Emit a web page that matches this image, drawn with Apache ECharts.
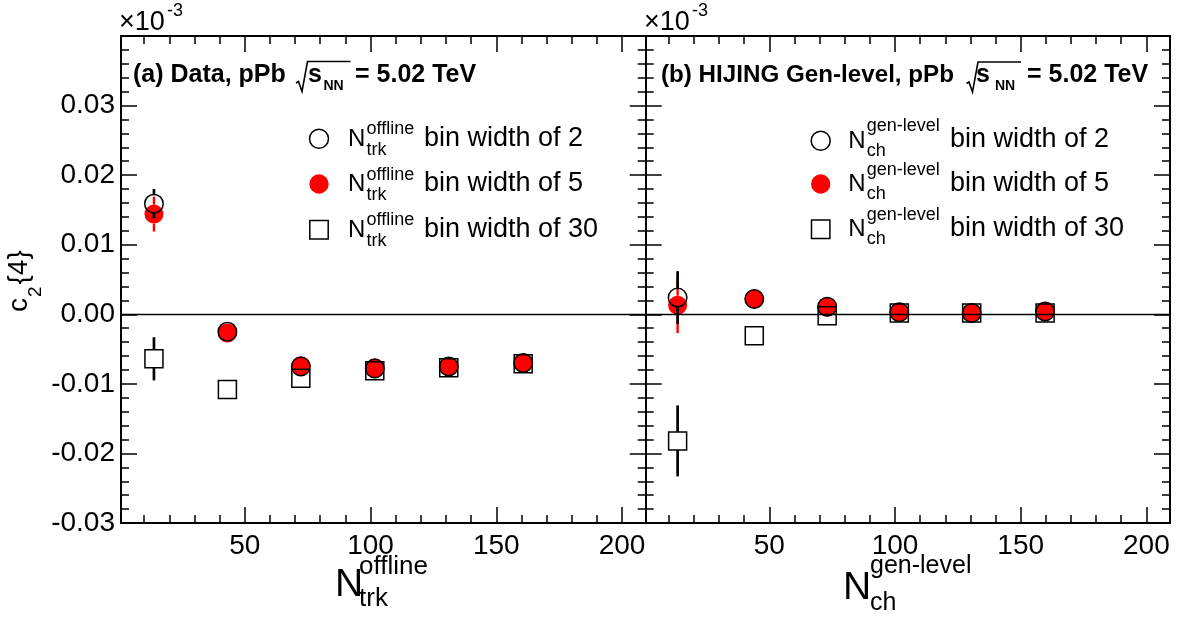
<!DOCTYPE html>
<html><head><meta charset="utf-8">
<script src="https://cdn.jsdelivr.net/npm/echarts@6/dist/echarts.min.js"></script>
<style>html,body{margin:0;padding:0;background:#fff}#c{width:1182px;height:617px}</style>
</head><body><div id="c"></div>
<script>
// ---------------- data ----------------
// panel (a): Data, pPb
const xA = [13.9, 43.1, 72.3, 101.7, 131.1, 160.7];
const aBw2 = [0.0159, -0.0025, -0.0075, -0.0078, -0.0075, -0.0070];
const aBw2Err = [0.0021, 0.0004, 0.0003, 0.0003, 0.0003, 0.0003];
const aBw5 = [0.0144, -0.0027, -0.0074, -0.0077, -0.0075, -0.0070];
const aBw5Err = [0.0025, 0.0005, 0.0004, 0.0003, 0.0003, 0.0003];
const aBw30 = [-0.0064, -0.0108, -0.0092, -0.0081, -0.0077, -0.0071];
const aBw30Err = [0.0031, 0.0005, 0.0004, 0.0003, 0.0003, 0.0003];
// panel (b): HIJING gen-level
const xB = [13.5, 44.0, 73.0, 101.7, 130.5, 159.7];
const bBw2 = [0.0024, 0.0022, 0.0011, 0.0003, 0.0002, 0.0004];
const bBw2Err = [0.0038, 0.0006, 0.0004, 0.0003, 0.0003, 0.0003];
const bBw5 = [0.0013, 0.0022, 0.0010, 0.0003, 0.0002, 0.0004];
const bBw5Err = [0.0040, 0.0006, 0.0004, 0.0003, 0.0003, 0.0003];
const bBw30 = [-0.0182, -0.0031, -0.0002, 0.0002, 0.0002, 0.0002];
const bBw30Err = [0.0051, 0.0006, 0.0004, 0.0003, 0.0003, 0.0003];
// ticks
const xMajor = [50, 100, 150, 200];
const xMinor = [10, 20, 30, 40, 60, 70, 80, 90, 110, 120, 130, 140, 160, 170, 180, 190, 200];
const yMin = -0.03, yMax = 0.04, yStep = 0.01;
const legendA = ['offline', 'trk'];
const legendB = ['gen-level', 'ch'];
const legendTexts = ['bin width of 2', 'bin width of 5', 'bin width of 30'];

// ---------------- layout ----------------
const FONT = 'Liberation Sans';
const X0 = 0.8, X1 = 209.4;
const grids = [
  {left: 121, top: 36, width: 524.7, height: 487},
  {left: 645.7, top: 36, width: 524.3, height: 487}
];

function xAxesFor(g) {
  const base = {type: 'value', gridIndex: g, min: X0, max: X1, splitLine: {show: false}};
  return [
    Object.assign({}, base, {position: 'bottom',
      axisLine: {show: true, onZero: false, lineStyle: {color: '#000', width: 2}},
      axisTick: {show: true, inside: true, length: 16, customValues: xMajor, lineStyle: {color: '#000', width: 1.5}},
      axisLabel: {show: true, customValues: xMajor, color: '#000', fontFamily: FONT, fontSize: 28, margin: 9}}),
    Object.assign({}, base, {position: 'bottom',
      axisLine: {show: false, onZero: false},
      axisTick: {show: true, inside: true, length: 8, customValues: xMinor, lineStyle: {color: '#000', width: 1.5}},
      axisLabel: {show: false}}),
    Object.assign({}, base, {position: 'top',
      axisLine: {show: true, onZero: false, lineStyle: {color: '#000', width: 2}},
      axisTick: {show: true, inside: true, length: 16, customValues: xMajor, lineStyle: {color: '#000', width: 1.5}},
      axisLabel: {show: false}}),
    Object.assign({}, base, {position: 'top',
      axisLine: {show: false, onZero: false},
      axisTick: {show: true, inside: true, length: 8, customValues: xMinor, lineStyle: {color: '#000', width: 1.5}},
      axisLabel: {show: false}})
  ];
}
function yAxesFor(g, withLabels) {
  const base = {type: 'value', gridIndex: g, min: yMin, max: yMax, interval: yStep,
    splitLine: {show: false}, minorSplitLine: {show: false},
    axisLine: {show: true, onZero: false, lineStyle: {color: '#000', width: 2}},
    axisTick: {show: true, inside: true, length: 16, lineStyle: {color: '#000', width: 1.5}},
    minorTick: {show: true, splitNumber: 5, length: 8, lineStyle: {color: '#000', width: 1.5}}};
  return [
    Object.assign({}, base, {position: 'left',
      axisLabel: {show: withLabels, color: '#000', fontFamily: FONT, fontSize: 28, margin: 6, showMinLabel: true,
        formatter: v => v > yMax - yStep / 2 ? '' : (Math.abs(v) < 1e-9 ? '0.00' : v.toFixed(2))}}),
    Object.assign({}, base, {position: 'right', axisLabel: {show: false}})
  ];
}

function errSeries(xs, ys, es, color, gap, xi, yi, lw, z) {
  return {
    type: 'custom', xAxisIndex: xi, yAxisIndex: yi, z: z, silent: true,
    data: xs.map((x, i) => [x, ys[i], es[i]]),
    encode: {x: 0, y: 1},
    renderItem: (params, api) => {
      const x = api.value(0), y = api.value(1), e = api.value(2);
      const c = api.coord([x, y]);
      const t = api.coord([x, y + e]);
      const b = api.coord([x, y - e]);
      const ch = [];
      const st = {stroke: color, lineWidth: lw};
      if (c[1] - t[1] > gap) ch.push({type: 'line', shape: {x1: c[0], y1: t[1], x2: c[0], y2: c[1] - gap}, style: st});
      if (b[1] - c[1] > gap) ch.push({type: 'line', shape: {x1: c[0], y1: c[1] + gap, x2: c[0], y2: b[1]}, style: st});
      return {type: 'group', children: ch};
    }
  };
}
function markSeries(xs, ys, kind, xi, yi, z, zeroLine) {
  const s = {
    type: 'scatter', xAxisIndex: xi, yAxisIndex: yi, z: z, silent: true,
    data: xs.map((x, i) => [x, ys[i]]),
    symbol: kind === 'square' ? 'rect' : 'circle',
    symbolSize: kind === 'square' ? 18 : (kind === 'filled' ? 19 : 18.5),
    itemStyle: kind === 'filled' ? {color: '#ff0000', borderWidth: 0, opacity: 1}
      : {color: 'rgba(0,0,0,0)', borderColor: '#000', borderWidth: 1.5, opacity: 1}
  };
  if (zeroLine) {
    s.markLine = {silent: true, symbol: 'none', animation: false, label: {show: false},
      lineStyle: {color: '#000', width: 1.3, type: 'solid'}, data: [{yAxis: 0}]};
  }
  return s;
}
function panelSeries(xs, b2, e2, b5, e5, b30, e30, xi, yi) {
  return [
    markSeries(xs, b5, 'filled', xi, yi, 3, true),
    errSeries(xs, b5, e5, '#ff0000', 9.5, xi, yi, 2.4, 3),
    markSeries(xs, b2, 'open', xi, yi, 4, false),
    errSeries(xs, b2, e2, '#000', 9.3, xi, yi, 2.7, 4),
    markSeries(xs, b30, 'square', xi, yi, 5, false),
    errSeries(xs, b30, e30, '#000', 9, xi, yi, 2.7, 5)
  ];
}

// ---------------- graphic texts ----------------
function T(x, base, text, fs, bold, extra) {
  return Object.assign({type: 'text', x: x, y: base - 0.35 * fs, silent: true,
    style: {text: text, fontSize: fs, fontFamily: FONT, fontWeight: bold ? 'bold' : 'normal',
      fill: '#000', align: 'left', verticalAlign: 'middle'}}, extra || {});
}
function sqrtSign(x0, y0) {
  return {type: 'polyline', silent: true,
    shape: {points: [[x0, y0 + 22], [x0 + 2.5, y0 + 20.5], [x0 + 6, y0 + 30.5], [x0 + 11.5, y0 + 0.5], [x0 + 54.5, y0 + 0.5]]},
    style: {stroke: '#000', lineWidth: 1.6, fill: null}};
}
const graphics = [];
// titles
graphics.push(T(133, 84, '(a) Data, pPb', 25, true));
graphics.push(sqrtSign(296, 61));
graphics.push(T(308, 84, 's', 25, true));
graphics.push(T(323.5, 91.5, 'NN', 14, true));
graphics.push(T(355, 84, '= 5.02 TeV', 25, true));
graphics.push(T(661, 84, '(b) HIJING Gen-level, pPb', 24.2, true));
graphics.push(sqrtSign(966.5, 61.5));
graphics.push(T(976, 84, 's', 25, true));
graphics.push(T(995, 91.5, 'NN', 14, true));
graphics.push(T(1027, 84, '= 5.02 TeV', 25, true));
// x10^-3
graphics.push(T(119, 31.5, '\u00d710', 27, false));
graphics.push(T(167, 17, '-3', 18, false));
graphics.push(T(644, 31.5, '\u00d710', 27, false));
graphics.push(T(692, 17, '-3', 18, false));
// legends
const rowsA = [138.8, 184, 229.8];
const rowsB = [140.7, 184, 229.3];
function legendBlock(mx, rows, nx, sup, sub, supBaseOff, subBaseOff, tx) {
  rows.forEach((r, i) => {
    if (i === 0) graphics.push({type: 'circle', silent: true, shape: {cx: mx, cy: r, r: 9.5}, style: {fill: null, stroke: '#000', lineWidth: 1.5}});
    if (i === 1) graphics.push({type: 'circle', silent: true, shape: {cx: mx, cy: r, r: 9.7}, style: {fill: '#ff0000', stroke: null}});
    if (i === 2) graphics.push({type: 'rect', silent: true, shape: {x: mx - 9.2, y: r - 9.2, width: 18.4, height: 18.4}, style: {fill: null, stroke: '#000', lineWidth: 1.5}});
    graphics.push(T(nx, r + 8.7, 'N', 24, false));
    graphics.push(T(nx + 18.5, r + supBaseOff, sup, 18, false));
    graphics.push(T(nx + 18.5, r + subBaseOff, sub, 18, false));
    graphics.push(T(tx, r + 8.7, legendTexts[i], 27, false));
  });
}
legendBlock(319, rowsA, 348, legendA[0], legendA[1], -3, 17.5, 424);
legendBlock(820.7, rowsB, 848.3, legendB[0], legendB[1], -8, 16.5, 950);
// axis titles
graphics.push(T(335, 598.5, 'N', 39, false));
graphics.push(T(359, 576, 'offline', 26, false));
graphics.push(T(359, 608, 'trk', 26, false));
graphics.push(T(843, 601.5, 'N', 39, false));
graphics.push(T(870, 575, 'gen-level', 25, false));
graphics.push(T(870, 611.5, 'ch', 25, false));
// y title (rotated, reads upward)
graphics.push({type: 'text', x: 19, y: 312, rotation: Math.PI / 2, silent: true,
  style: {text: 'c', fontSize: 28, fontFamily: FONT, fill: '#000', align: 'left', verticalAlign: 'middle'}});
graphics.push({type: 'text', x: 36, y: 297, rotation: Math.PI / 2, silent: true,
  style: {text: '2', fontSize: 19, fontFamily: FONT, fill: '#000', align: 'left', verticalAlign: 'middle'}});
graphics.push({type: 'text', x: 19, y: 284.5, rotation: Math.PI / 2, silent: true,
  style: {text: '{4}', fontSize: 28, fontFamily: FONT, fill: '#000', align: 'left', verticalAlign: 'middle'}});

const chart = echarts.init(document.getElementById('c'), null, {renderer: 'canvas'});
chart.setOption({
  animation: false,
  backgroundColor: '#fff',
  grid: grids.map(g => Object.assign({containLabel: false}, g)),
  xAxis: xAxesFor(0).concat(xAxesFor(1)),
  yAxis: yAxesFor(0, true).concat(yAxesFor(1, false)),
  series: panelSeries(xA, aBw2, aBw2Err, aBw5, aBw5Err, aBw30, aBw30Err, 0, 0)
    .concat(panelSeries(xB, bBw2, bBw2Err, bBw5, bBw5Err, bBw30, bBw30Err, 4, 2)),
  graphic: graphics
});
</script></body></html>
